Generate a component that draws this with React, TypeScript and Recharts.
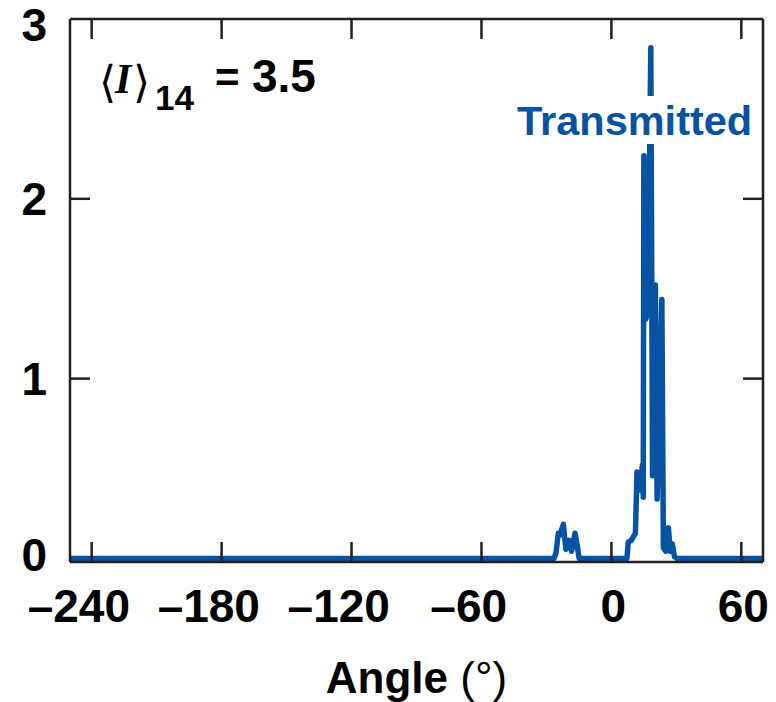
import React from 'react';
import { LineChart, Line, XAxis, YAxis, Label } from 'recharts';

// Angle (degrees) and transmitted intensity
const angles = [
  -250, -26.5, -25.6, -24.5, -23.8, -22.2, -21.0, -19.5, -18.4, -16.8, -15.9, -14.9,
  7.15, 7.8, 9.2, 10.1, 11.1, 11.8, 12.7, 13.4, 14.3, 14.7, 15.0, 15.9, 16.8, 18.2,
  19.0, 20.3, 21.1, 23.3, 24.0, 25.1, 26.3, 27.2, 28.1, 29.1, 30.2, 70,
];
const intensities = [
  0, 0, 0.03, 0.14, 0.13, 0.19, 0.05, 0.10, 0.04, 0.14, 0.08, 0,
  0, 0.09, 0.10, 0.12, 0.14, 0.48, 0.38, 0.40, 0.52, 0.34, 2.24, 1.33, 1.38, 2.84,
  0.46, 1.52, 0.33, 1.44, 0.06, 0.04, 0.17, 0.04, 0.08, 0.01, 0, 0,
];

const xTicks = [-240, -180, -120, -60, 0, 60];
const yTicks = [0, 1, 2, 3];
const innerYTicks = [1, 2];
const xDomain: [number, number] = [-250, 70];
const yDomain: [number, number] = [-0.02, 3];
const seriesName = 'Transmitted';
const xAxisTitle = 'Angle';
const xAxisUnit = '(°)';
const annotationSymbol = 'I';
const annotationSub = '14';
const annotationValue = '3.5';

const data = angles.map((a, i) => ({ angle: a, intensity: intensities[i] }));

const AXIS = '#231f20';
const BLUE = '#0652a3';
const SANS = "'Liberation Sans', Arial, Helvetica, sans-serif";
const TICK_FONT = 46;

const XTick = (props: any) => {
  const { x, y, payload } = props;
  const v = Number(payload.value);
  const neg = v < 0;
  const text = neg ? `\u2013${Math.abs(v)}` : `${v}`;
  // digits are centred on the tick, the minus sign hangs to the left
  const dx = neg ? -TICK_FONT * 0.278 : 2;
  return (
    <text
      x={x}
      y={y}
      dx={dx}
      dy="0.71em"
      textAnchor="middle"
      fontFamily={SANS}
      fontWeight={700}
      fontSize={TICK_FONT}
      fill="#000"
    >
      {text}
    </text>
  );
};

const YTick = (props: any) => {
  const { x, y, payload } = props;
  const yy = Math.min(Math.max(y, 25), 555);
  return (
    <text
      x={x}
      y={yy}
      dy="0.355em"
      textAnchor="end"
      fontFamily={SANS}
      fontWeight={700}
      fontSize={TICK_FONT}
      fill="#000"
    >
      {payload.value}
    </text>
  );
};

const EmptyTick = () => <g />;

const AngleLabel = (props: any) => {
  const vb = props.viewBox || {};
  const cx = vb.x + vb.width / 2;
  const y = vb.y + vb.height + 70;
  return (
    <text x={cx} y={y} textAnchor="middle" fontFamily={SANS} fontSize={44} fill="#000">
      <tspan fontWeight={700}>{xAxisTitle} </tspan>
      <tspan fontWeight={400}>{xAxisUnit}</tspan>
    </text>
  );
};

const tickLineStyle = { stroke: AXIS, strokeWidth: 2.5 };
const axisLineStyle = { stroke: AXIS, strokeWidth: 2.5 };

export default function App() {
  return (
    <div style={{ position: 'absolute', left: 0, top: 0, width: 776, height: 702, background: '#fff' }}>
      <LineChart
        width={776}
        height={702}
        data={data}
        margin={{ top: 19, right: 13, left: 10, bottom: 79 }}
      >
        <XAxis
          xAxisId="main"
          dataKey="angle"
          type="number"
          domain={xDomain}
          ticks={xTicks}
          interval={0}
          allowDataOverflow
          tick={<XTick />}
          tickLine={false}
          tickSize={0}
          tickMargin={27}
          height={61}
          axisLine={axisLineStyle}
        >
          <Label content={AngleLabel} />
        </XAxis>
        <XAxis
          xAxisId="bottomInner"
          dataKey="angle"
          type="number"
          domain={xDomain}
          ticks={xTicks}
          interval={0}
          allowDataOverflow
          orientation="bottom"
          mirror
          tick={<EmptyTick />}
          tickSize={20}
          tickLine={tickLineStyle}
          axisLine={false}
          height={20}
        />
        <XAxis
          xAxisId="top"
          dataKey="angle"
          type="number"
          domain={xDomain}
          ticks={xTicks}
          interval={0}
          allowDataOverflow
          orientation="top"
          mirror
          tick={<EmptyTick />}
          tickSize={20}
          tickLine={tickLineStyle}
          axisLine={axisLineStyle}
          height={20}
        />
        <YAxis
          yAxisId="main"
          type="number"
          domain={yDomain}
          ticks={yTicks}
          interval={0}
          allowDataOverflow
          tick={<YTick />}
          tickLine={false}
          tickSize={0}
          tickMargin={23}
          width={60}
          axisLine={axisLineStyle}
        />
        <YAxis
          yAxisId="leftInner"
          type="number"
          domain={yDomain}
          ticks={innerYTicks}
          interval={0}
          allowDataOverflow
          orientation="left"
          mirror
          tick={<EmptyTick />}
          tickSize={20}
          tickLine={tickLineStyle}
          axisLine={false}
          width={20}
        />
        <YAxis
          yAxisId="right"
          type="number"
          domain={yDomain}
          ticks={innerYTicks}
          interval={0}
          allowDataOverflow
          orientation="right"
          mirror
          tick={<EmptyTick />}
          tickSize={20}
          tickLine={tickLineStyle}
          axisLine={axisLineStyle}
          width={20}
        />
        <Line
          xAxisId="main"
          yAxisId="main"
          type="linear"
          dataKey="intensity"
          name={seriesName}
          stroke={BLUE}
          strokeWidth={5.5}
          strokeLinejoin="round"
          strokeLinecap="round"
          dot={false}
          activeDot={false}
          isAnimationActive={false}
        />
      </LineChart>
      <svg
        width={776}
        height={702}
        style={{ position: 'absolute', left: 0, top: 0, pointerEvents: 'none' }}
      >
        <rect x={512} y={96} width={246} height={48} fill="#fff" />
        <text x={517} y={135} fontFamily={SANS} fontWeight={700} fontSize={41.5} fill={BLUE}>
          {seriesName}
        </text>
        <text x={99} y={97} fontFamily="'DejaVu Serif', serif" fontSize={44} fill="#000">{'\u27E8'}</text>
        <text x={115} y={93} fontFamily="'Liberation Serif', 'Times New Roman', serif" fontStyle="italic" fontWeight={700} fontSize={42} fill="#000">
          {annotationSymbol}
        </text>
        <text x={133} y={97} fontFamily="'DejaVu Serif', serif" fontSize={44} fill="#000">{'\u27E9'}</text>
        <text x={155} y={110} fontFamily={SANS} fontWeight={700} fontSize={35} fill="#000">{annotationSub}</text>
        <text x={215} y={92} fontFamily={SANS} fontWeight={700} fontSize={42} fill="#000">=</text>
        <text x={252} y={92} fontFamily={SANS} fontWeight={700} fontSize={46} fill="#000">{annotationValue}</text>
      </svg>
    </div>
  );
}
